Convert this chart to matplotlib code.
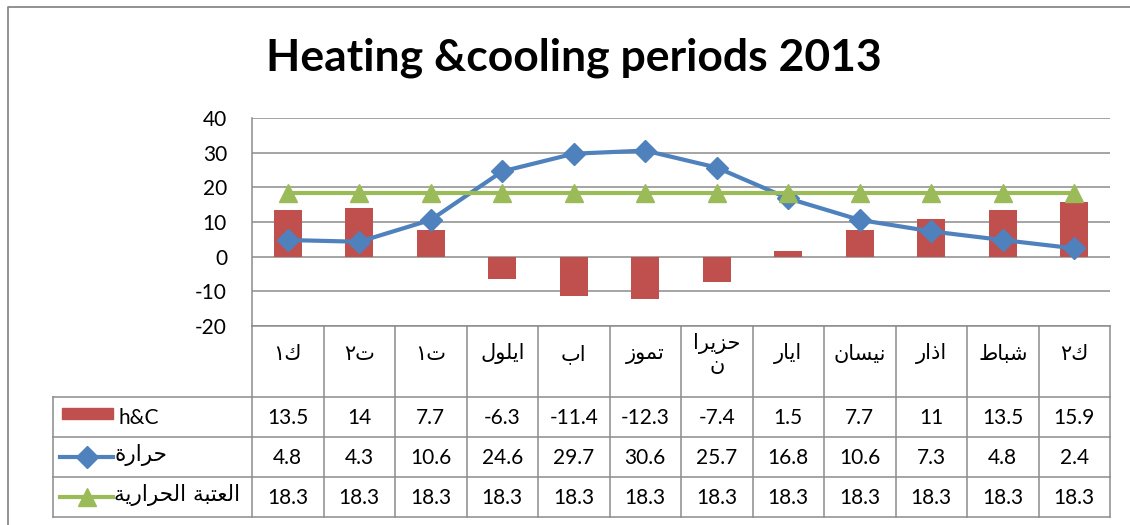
import numpy as np
import matplotlib
matplotlib.use("Agg")
import matplotlib.pyplot as plt
from matplotlib.patches import Rectangle
from matplotlib.lines import Line2D
from matplotlib.transforms import blended_transform_factory

plt.rcParams['font.family'] = ['Lato', 'DejaVu Sans']
plt.rcParams['axes.unicode_minus'] = False

# data, in the order the chart shows it (right-to-left months)
months = ['ك١', 'ت٢', 'ت١', 'ايلول', 'اب', 'تموز', 'حزيرا\nن', 'ايار', 'نيسان', 'اذار', 'شباط', 'ك٢']
hc = [13.5, 14, 7.7, -6.3, -11.4, -12.3, -7.4, 1.5, 7.7, 11, 13.5, 15.9]
temp = [4.8, 4.3, 10.6, 24.6, 29.7, 30.6, 25.7, 16.8, 10.6, 7.3, 4.8, 2.4]
base = [18.3, 18.3, 18.3, 18.3, 18.3, 18.3, 18.3, 18.3, 18.3, 18.3, 18.3, 18.3]
series_names = ['h&C', 'حرارة', 'العتبة الحرارية']
yticks = [-20, -10, 0, 10, 20, 30, 40]
title = 'Heating &cooling periods 2013'

RED = '#C0504D'
BLUE = '#4F81BD'
GREEN = '#9BBB59'
GRID = '#8C8C8C'

# matplotlib has no arabic shaping, so pick presentation forms by hand
FORMS = {
    'ا': ('\uFE8D', '\uFE8E', None, None),
    'ب': ('\uFE8F', '\uFE90', '\uFE91', '\uFE92'),
    'ة': ('\uFE93', '\uFE94', None, None),
    'ت': ('\uFE95', '\uFE96', '\uFE97', '\uFE98'),
    'ح': ('\uFEA1', '\uFEA2', '\uFEA3', '\uFEA4'),
    'ذ': ('\uFEAB', '\uFEAC', None, None),
    'ر': ('\uFEAD', '\uFEAE', None, None),
    'ز': ('\uFEAF', '\uFEB0', None, None),
    'س': ('\uFEB1', '\uFEB2', '\uFEB3', '\uFEB4'),
    'ش': ('\uFEB5', '\uFEB6', '\uFEB7', '\uFEB8'),
    'ط': ('\uFEC1', '\uFEC2', '\uFEC3', '\uFEC4'),
    'ع': ('\uFEC9', '\uFECA', '\uFECB', '\uFECC'),
    'ك': ('\uFED9', '\uFEDA', '\uFEDB', '\uFEDC'),
    'ل': ('\uFEDD', '\uFEDE', '\uFEDF', '\uFEE0'),
    'م': ('\uFEE1', '\uFEE2', '\uFEE3', '\uFEE4'),
    'ن': ('\uFEE5', '\uFEE6', '\uFEE7', '\uFEE8'),
    'و': ('\uFEED', '\uFEEE', None, None),
    'ي': ('\uFEF1', '\uFEF2', '\uFEF3', '\uFEF4'),
}


def shape_line(s):
    out = []
    for i, ch in enumerate(s):
        if ch not in FORMS:
            out.append(ch)
            continue
        prev = s[i - 1] if i > 0 else ''
        nxt = s[i + 1] if i + 1 < len(s) else ''
        join_prev = prev in FORMS and FORMS[prev][2] is not None
        join_next = nxt in FORMS and FORMS[ch][2] is not None
        iso, fin, ini, med = FORMS[ch]
        if join_prev and join_next:
            out.append(med)
        elif join_prev:
            out.append(fin)
        elif join_next:
            out.append(ini)
        else:
            out.append(iso)
    return ''.join(out[::-1])


def shape(s):
    return '\n'.join(shape_line(l) for l in s.split('\n'))


W, H = 1130, 525
fig = plt.figure(figsize=(W / 100, H / 100), dpi=100)

bg = fig.add_axes([0, 0, 1, 1])
bg.set_xlim(0, W)
bg.set_ylim(H, 0)
bg.axis('off')

x_left, x_right, y_top, y_bot = 252, 1110, 118, 326
ax = fig.add_axes([x_left / W, (H - y_bot) / H, (x_right - x_left) / W, (y_bot - y_top) / H])
ax.patch.set_visible(False)

x = np.arange(len(months))
ax.bar(x, hc, width=0.39, color=RED, zorder=2)
ax.plot(x, temp, color=BLUE, lw=3, marker='D', ms=11, zorder=3)
ax.plot(x, base, color=GREEN, lw=3, marker='^', ms=13.5, zorder=4)

ax.set_xlim(-0.5, len(months) - 0.5)
ax.set_ylim(-20, 40)
ax.set_yticks(yticks)
ax.set_xticks([])
ax.grid(axis='y', color=GRID, lw=1.1)
ax.set_axisbelow(True)
for side in ['top', 'right', 'bottom']:
    ax.spines[side].set_visible(False)
ax.spines['left'].set_color(GRID)
ax.spines['left'].set_linewidth(1.1)
ax.tick_params(axis='y', length=0, pad=18, labelsize=15)

# outer chart frame
bg.plot([8, 8, W + 5], [H + 5, 7, 7], color='#888888', lw=1.3)

bg.text(574, 58, title, ha='center', va='center', fontsize=32, fontweight='bold')

# data table below the plot
T = blended_transform_factory(ax.transData, bg.transData)
rows = [326, 397, 437, 477, 517]
for b in np.arange(-0.5, len(months), 1.0):
    bg.plot([b, b], [rows[0], rows[-1]], color=GRID, lw=1.1, transform=T)
bg.plot([x_left, x_right], [rows[0], rows[0]], color=GRID, lw=1.1)
for yy in rows[1:]:
    bg.plot([53, x_right], [yy, yy], color=GRID, lw=1.1)
bg.plot([53, 53], [rows[1], rows[-1]], color=GRID, lw=1.1)

for i, m in enumerate(months):
    bg.text(i, 354, shape(m), transform=T, ha='center', va='center',
            fontsize=15, family='DejaVu Sans', linespacing=1.0)

for r, vals in enumerate([hc, temp, base]):
    yc = (rows[r + 1] + rows[r + 2]) / 2
    for i, v in enumerate(vals):
        bg.text(i, yc + 1, f'{v:g}', transform=T, ha='center', va='center', fontsize=15)

# legend keys in the first column
bg.add_patch(Rectangle((62, 408), 51, 11, color=RED))
bg.add_line(Line2D([60, 86.5, 113], [457, 457, 457], color=BLUE, lw=3, marker='D',
                   ms=11, markevery=[1]))
bg.add_line(Line2D([60, 86.5, 113], [497, 497, 497], color=GREEN, lw=3, marker='^',
                   ms=13.5, markevery=[1]))
bg.text(119, 418, series_names[0], ha='left', va='center', fontsize=15)
bg.text(114, 455, shape(series_names[1]), ha='left', va='center', fontsize=15.5, family='DejaVu Sans')
bg.text(114, 495, shape(series_names[2]), ha='left', va='center', fontsize=15.5, family='DejaVu Sans')

fig.savefig('out.png', dpi=100)
